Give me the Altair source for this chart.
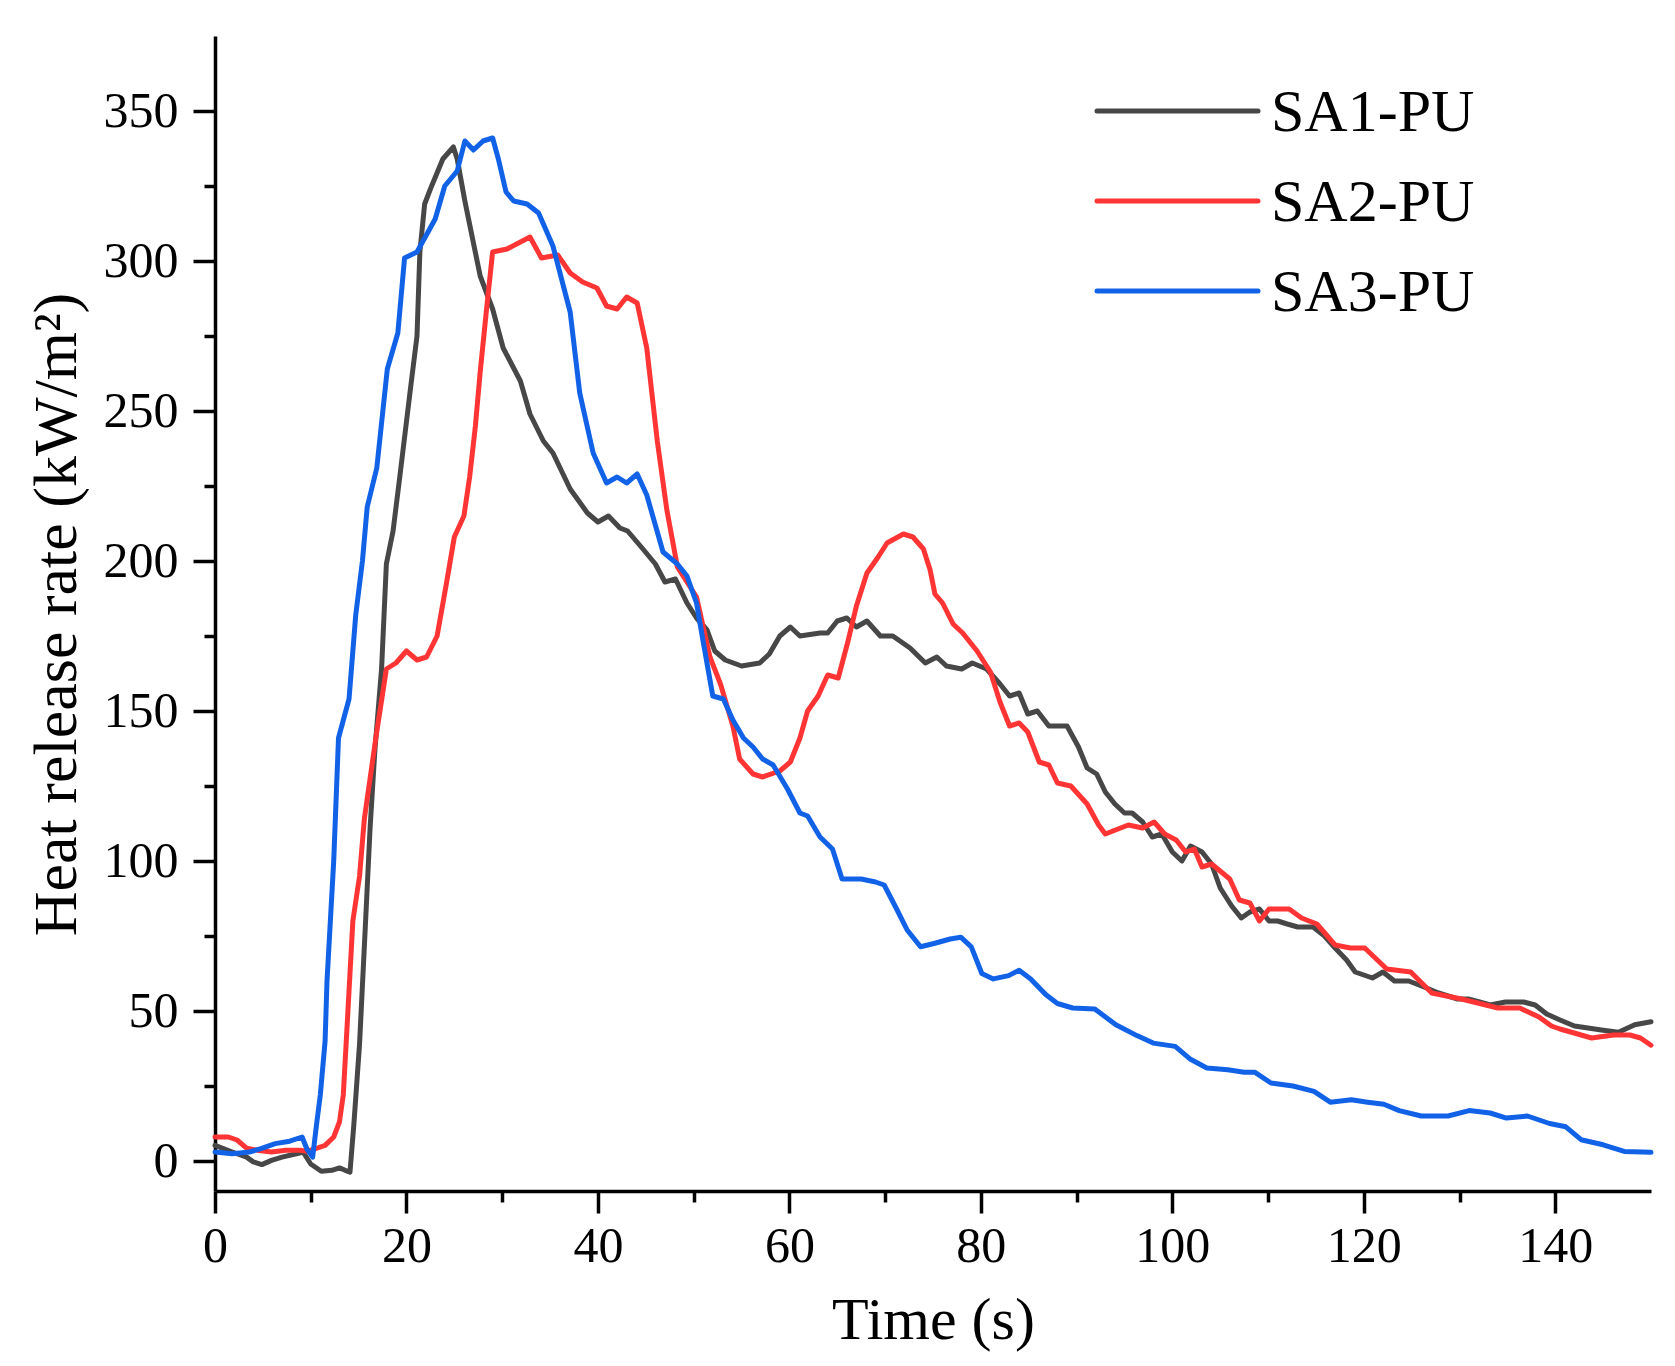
import altair as alt
import pandas as pd

series_names = ["SA1-PU", "SA2-PU", "SA3-PU"]
series_colors = ["#474747", "#ff3535", "#1262e8"]
legend_rows = [0, 1, 2]

t1 = [0, 1.8, 3.3, 4, 4.9, 5.9, 7, 8.5, 9.2, 10, 11.1, 12.2, 13, 13.6, 14.1, 14.5, 15.1, 15.7, 16.2, 16.7,
      17.4, 17.9, 18.6, 19.3, 20.4, 21.1, 21.4, 21.9, 22.5, 23.8, 24.9, 25.3, 26.1, 27.7, 29, 30.1, 31.9, 32.9,
      34.3, 35.3, 37.1, 38.9, 40, 41.1, 42.3, 43.1, 44.7, 46, 47, 48.1, 49.3, 50.3, 51.4, 52.2, 53.3, 55, 56.9,
      57.9, 59, 60.1, 61.1, 63.2, 64, 65, 66, 67, 68.1, 69.5, 70.8, 72.6, 74.2, 75.4, 76.4, 78, 79.1, 80.6, 82,
      83, 84, 84.9, 85.9, 87.1, 89, 90.2, 91.1, 92.1, 93, 94, 95, 95.8, 96.9, 97.9, 98.9, 100, 101, 101.9, 103.1,
      104.1, 105, 106.2, 107.2, 108.1, 109.1, 110.1, 111, 112, 113.1, 114.7, 115.9, 117, 118.2, 119.1, 120.9,
      122, 123.2, 124.7, 126.3, 127.8, 129.8, 130.9, 132.1, 133.2, 134.8, 136.7, 137.9, 139.1, 140.5, 142, 145,
      146.6, 148.3, 150]
v1 = [5.2, 3, 1.3, -0.3, -1.2, 0.2, 1.3, 2.4, 3, -1, -3.4, -3.1, -2.3, -3.1, -3.7, 12, 39, 78, 111, 137,
      164, 199, 210, 228, 257, 275, 303, 319, 324, 334, 338, 334, 320, 295, 284, 271, 260, 249,
      240, 236, 224, 216, 213, 215, 211, 210, 204, 199, 193, 194, 186, 181, 177, 170, 167, 165, 166,
      169, 175, 178, 175, 176, 176, 180, 181, 178, 180, 175, 175, 171, 166, 168, 165, 164, 166, 164, 159,
      155, 156, 149, 150, 145, 145, 138, 131, 129, 123, 119, 116, 116, 113, 108, 109, 103, 100, 105, 103,
      99, 91, 85, 81, 83, 84, 80, 80, 79, 78, 78, 75, 71, 67, 63, 61,
      63, 60, 60, 58, 56, 54, 54, 53, 52, 53, 53, 52, 49, 47, 45, 43.6,
      42.9, 45.4, 46.4]

t2 = [0, 1.4, 2.3, 3.3, 4.4, 5.9, 7.4, 8.9, 9.6, 10.4, 11.5, 12.4, 13, 13.4, 13.8, 14.4, 15.1, 15.6, 16.8,
      17.9, 18.9, 20, 21.1, 22.1, 23.2, 24.2, 25, 26, 26.6, 27.2, 27.7, 28.4, 29, 30.5, 32.9, 34.1, 35.8, 37.1,
      38.4, 39.9, 40.9, 42, 43, 44.1, 45.1, 46.2, 47.2, 48.3, 50.3, 51.7, 52.8, 54.1, 54.8, 56.2, 57.2, 59,
      60.1, 61.1, 61.9, 63, 64, 65.1, 66.1, 67, 68.1, 69.2, 70.2, 71.9, 72.9, 74, 74.7, 75.2, 76, 77.1, 78.1,
      79.6, 81, 82, 83, 84, 84.9, 86.1, 87.1, 88, 89.4, 91.1, 92.3, 93, 95.4, 96.9, 98.1, 99.2, 100.4, 101.4,
      102.3, 103.1, 104.1, 106, 107, 108.1, 109.1, 110.1, 112.2, 113.5, 115.1, 117, 118.6, 120.1, 122.4, 124.9,
      127.1, 130.2, 134, 136.3, 138.3, 139.6, 140.5, 141.6, 143.8, 146.1, 147.8, 148.9, 150]
v2 = [8, 8, 7, 4.3, 3.6, 3, 3.6, 3.6, 3.2, 4, 5.2, 8, 13, 22, 45, 80, 95, 114, 141,
      164, 166, 170, 167, 168, 175, 193, 208, 215, 228, 245, 263, 285, 303, 304, 308, 301, 302, 296,
      293, 291, 285, 284, 288, 286, 271, 240, 217, 198, 188, 168, 159, 145, 134, 129, 128, 130,
      133, 141, 150, 155, 162, 161, 173, 185, 196, 201, 206, 209, 208, 204, 197, 189, 186, 179, 176,
      170, 163, 153, 145, 146, 143, 133, 132, 126, 125, 119, 112, 109, 112, 111, 113, 109, 107, 103,
      104, 98, 99, 94, 87, 86, 80, 84, 84, 81, 79, 72, 71, 71, 64, 63,
      56, 54, 51, 51, 48, 45, 44, 43, 41, 42, 42, 41, 38.6]

t3 = [0, 1.8, 3.6, 4.8, 6.3, 7.8, 9.1, 9.6, 10.2, 10.6, 11, 11.5, 11.7, 12.4, 12.9, 14, 14.7, 15.4, 15.9,
      16.9, 17.5, 18, 19.1, 19.8, 21.1, 23, 24, 25.3, 26.1, 27, 28, 29, 29.6, 30.4, 31.2, 32.6, 33.8, 35.3,
      37.1, 38.1, 39.5, 40.9, 42, 43, 44.1, 45.1, 46.8, 48.3, 49.3, 50.3, 51, 52, 53.1, 54.1, 55.2, 56.2, 57.2,
      58.3, 59.8, 61.1, 61.9, 63.2, 64.5, 65.5, 67.5, 69, 69.9, 71.2, 72.3, 73.7, 75.1, 76.8, 77.9, 79, 80.1,
      81.3, 82.9, 84, 85.2, 86.8, 88, 89.6, 91.9, 94.1, 96.3, 98, 100.3, 101.9, 103.6, 105.8, 107.5, 108.6,
      110.3, 112.6, 114.8, 116.5, 118.7, 120.4, 122.1, 123.7, 126, 128.8, 131, 133.2, 134.9, 137.1, 139.4,
      141.1, 142.7, 145, 147.2, 150]
v3 = [3, 2.4, 3, 4.1, 5.8, 6.6, 8, 4, 1.3, 12, 22, 40, 60, 100, 141, 154, 182, 200, 218,
      231, 249, 264, 276, 301, 303, 314, 325, 330, 340, 337, 340, 341, 334, 323, 320, 319, 316, 305,
      283, 256, 236, 226, 228, 226, 229, 222, 203, 199, 195, 186, 173, 155, 154, 147, 141, 138, 134,
      132, 124, 116, 115, 108, 104, 94, 94, 93, 92, 84, 77, 71.4, 72.5, 74, 74.6, 71.4, 62.5,
      60.7, 61.8, 63.6, 60.7, 55.4, 52.5, 51, 50.7, 45.4, 41.8, 39.3, 38.2, 33.9, 31, 30.4, 29.6, 29.6,
      26, 25, 23.2, 19.6, 20.4, 19.6, 18.9, 16.8, 15, 15, 16.8, 16, 14.3, 15, 12.5,
      11.4, 7.1, 5.4, 3.2, 2.9]

x_major = [0, 20, 40, 60, 80, 100, 120, 140]
x_minor = [10, 30, 50, 70, 90, 110, 130]
y_major = [0, 50, 100, 150, 200, 250, 300, 350]
y_minor = [25, 75, 125, 175, 225, 275, 325]

rows = []
for name, ts, vs in zip(series_names, [t1, t2, t3], [v1, v2, v3]):
    for t, v in zip(ts, vs):
        rows.append({"series": name, "t": t, "v": v})
df = pd.DataFrame(rows)
legend_df = pd.DataFrame({"series": series_names, "row": legend_rows})

FONT = "Liberation Serif"
W, H = 1436, 1155

xs = alt.Scale(domain=[0, 150], nice=False, zero=False)
ys = alt.Scale(domain=[-10, 375], nice=False, zero=False)
cs = alt.Scale(domain=series_names, range=series_colors)

lines = alt.Chart(df).mark_line(strokeWidth=5, strokeJoin="round", strokeCap="round").encode(
    x=alt.X("t:Q", scale=xs, axis=alt.Axis(
        values=x_major, orient="bottom", title="Time (s)", format="d",
        labelFont=FONT, labelFontSize=50, labelColor="black", labelPadding=8,
        tickSize=22, tickWidth=3.5, tickColor="black", domainWidth=3.5, domainColor="black",
        titleFont=FONT, titleFontSize=60, titleFontWeight="normal", titleColor="black",
        titleX=W / 2, titleY=147, titleAlign="center", titleBaseline="alphabetic",
        grid=False, labelFlush=False)),
    y=alt.Y("v:Q", scale=ys, axis=alt.Axis(
        values=y_major, orient="left", title="Heat release rate (kW/m²)", format="d",
        labelFont=FONT, labelFontSize=50, labelColor="black", labelPadding=15,
        tickSize=22, tickWidth=3.5, tickColor="black", domainWidth=3.5, domainColor="black",
        titleFont=FONT, titleFontSize=62, titleFontWeight="normal", titleColor="black",
        titleAngle=270, titleX=-140, titleY=578, titleAlign="center", titleBaseline="alphabetic",
        grid=False, labelFlush=False)),
    color=alt.Color("series:N", scale=cs, legend=None),
    detail="series:N",
)

minor = alt.Chart(df).mark_point(opacity=0).encode(
    x=alt.X("t:Q", scale=xs, axis=alt.Axis(
        values=x_minor, orient="bottom", labels=False, title=None, domain=False,
        tickSize=11, tickWidth=3.5, tickColor="black", grid=False)),
    y=alt.Y("v:Q", scale=ys, axis=alt.Axis(
        values=y_minor, orient="left", labels=False, title=None, domain=False,
        tickSize=11, tickWidth=3.5, tickColor="black", grid=False)),
)

ly = alt.Y("row:Q", axis=None, scale=alt.Scale(domain=[0, 2], range=[75, 255], nice=False, zero=False))

leg_lines = alt.Chart(legend_df).mark_rule(strokeWidth=5, strokeCap="round").encode(
    x=alt.value(882), x2=alt.value(1043), y=ly,
    color=alt.Color("series:N", scale=cs, legend=None),
)
leg_text = alt.Chart(legend_df).mark_text(
    align="left", baseline="middle", font=FONT, fontSize=60, color="black", dy=2
).encode(
    x=alt.value(1056), y=ly, text="series:N",
)

chart = alt.layer(lines, minor, leg_lines, leg_text).resolve_axis(
    x="independent", y="independent"
).resolve_scale(y="independent").properties(
    width=W, height=H,
    autosize=alt.AutoSizeParams(type="none"),
    padding={"left": 207, "top": 28, "right": 16, "bottom": 167},
    background="white",
).configure_view(stroke=None)

chart.save("out.html", embed_options={"renderer": "svg", "actions": False})
